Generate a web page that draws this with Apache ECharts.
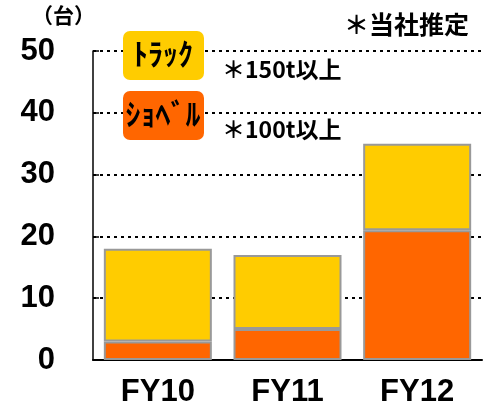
<!DOCTYPE html>
<html>
<head>
<meta charset="utf-8">
<script src="https://cdn.jsdelivr.net/npm/echarts@6/dist/echarts.min.js"></script>
<style>
  html, body { margin: 0; padding: 0; background: #fff; }
  #chart { width: 483px; height: 408px; }
</style>
</head>
<body>
<div id="chart"></div>
<script>
const categories = ['FY10', 'FY11', 'FY12']
const shovelValues = [3, 5, 21]
const truckValues = [15, 12, 14]
const yTicks = { min: 0, max: 50, interval: 10 }

const JP_FONT = '"Noto Sans CJK JP", "Liberation Sans", sans-serif'
const NUM_FONT = '"Liberation Sans", Arial, sans-serif'
const ORANGE = '#ff6600'
const YELLOW = '#ffcc00'

const chart = echarts.init(document.getElementById('chart'))

const barStyle = (color) => ({ color, borderColor: '#999999', borderWidth: 2 })

chart.setOption({
  animation: false,
  backgroundColor: '#fff',
  grid: { left: 93, right: 1, top: 51, bottom: 48 },
  xAxis: {
    type: 'category',
    data: categories,
    axisLine: { lineStyle: { color: '#000', width: 2 } },
    axisTick: { inside: true, length: 8, lineStyle: { color: '#000', width: 1.5 } },
    axisLabel: { color: '#000', fontSize: 31, fontWeight: 'bold', fontFamily: NUM_FONT, margin: 17 },
  },
  yAxis: {
    type: 'value',
    min: yTicks.min,
    max: yTicks.max,
    interval: yTicks.interval,
    axisLine: { show: true, lineStyle: { color: '#000', width: 1.5 } },
    axisTick: { show: true, inside: true, length: 6, lineStyle: { color: '#000', width: 1.5 } },
    axisLabel: { color: '#000', fontSize: 31, fontWeight: 'bold', fontFamily: NUM_FONT, margin: 38 },
    splitLine: { show: true, lineStyle: { color: '#000', width: 2, type: [3, 4] } },
  },
  series: [
    { name: 'ｼｮﾍﾞﾙ', type: 'bar', stack: 'total', barWidth: 108, data: shovelValues, itemStyle: barStyle(ORANGE) },
    { name: 'ﾄﾗｯｸ', type: 'bar', stack: 'total', barWidth: 108, data: truckValues, itemStyle: barStyle(YELLOW) },
  ],
  graphic: [
    { type: 'text', left: 32, top: 5, style: { text: '（台）', font: 'bold 21px ' + JP_FONT, fill: '#000' } },
    { type: 'text', left: 344, top: 12, style: { text: '＊当社推定', font: 'bold 25px ' + JP_FONT, fill: '#000' } },
    { type: 'rect', shape: { x: 123, y: 31, width: 81, height: 49, r: 7 }, style: { fill: YELLOW }, z: 10 },
    { type: 'text', x: 163, y: 54, style: { text: 'ﾄﾗｯｸ', font: 'bold 30px ' + JP_FONT, fill: '#000', align: 'center', verticalAlign: 'middle' }, z: 11 },
    { type: 'rect', shape: { x: 123, y: 91, width: 81, height: 49, r: 7 }, style: { fill: ORANGE }, z: 10 },
    { type: 'text', x: 163, y: 114, style: { text: 'ｼｮﾍﾞﾙ', font: 'bold 30px ' + JP_FONT, fill: '#000', align: 'center', verticalAlign: 'middle' }, z: 11 },
    { type: 'text', x: 222, y: 69, style: { text: '＊150t以上', font: 'bold 23px ' + JP_FONT, fill: '#000', verticalAlign: 'middle' }, z: 11 },
    { type: 'text', x: 222, y: 129, style: { text: '＊100t以上', font: 'bold 23px ' + JP_FONT, fill: '#000', verticalAlign: 'middle' }, z: 11 },
  ],
})
</script>
</body>
</html>
